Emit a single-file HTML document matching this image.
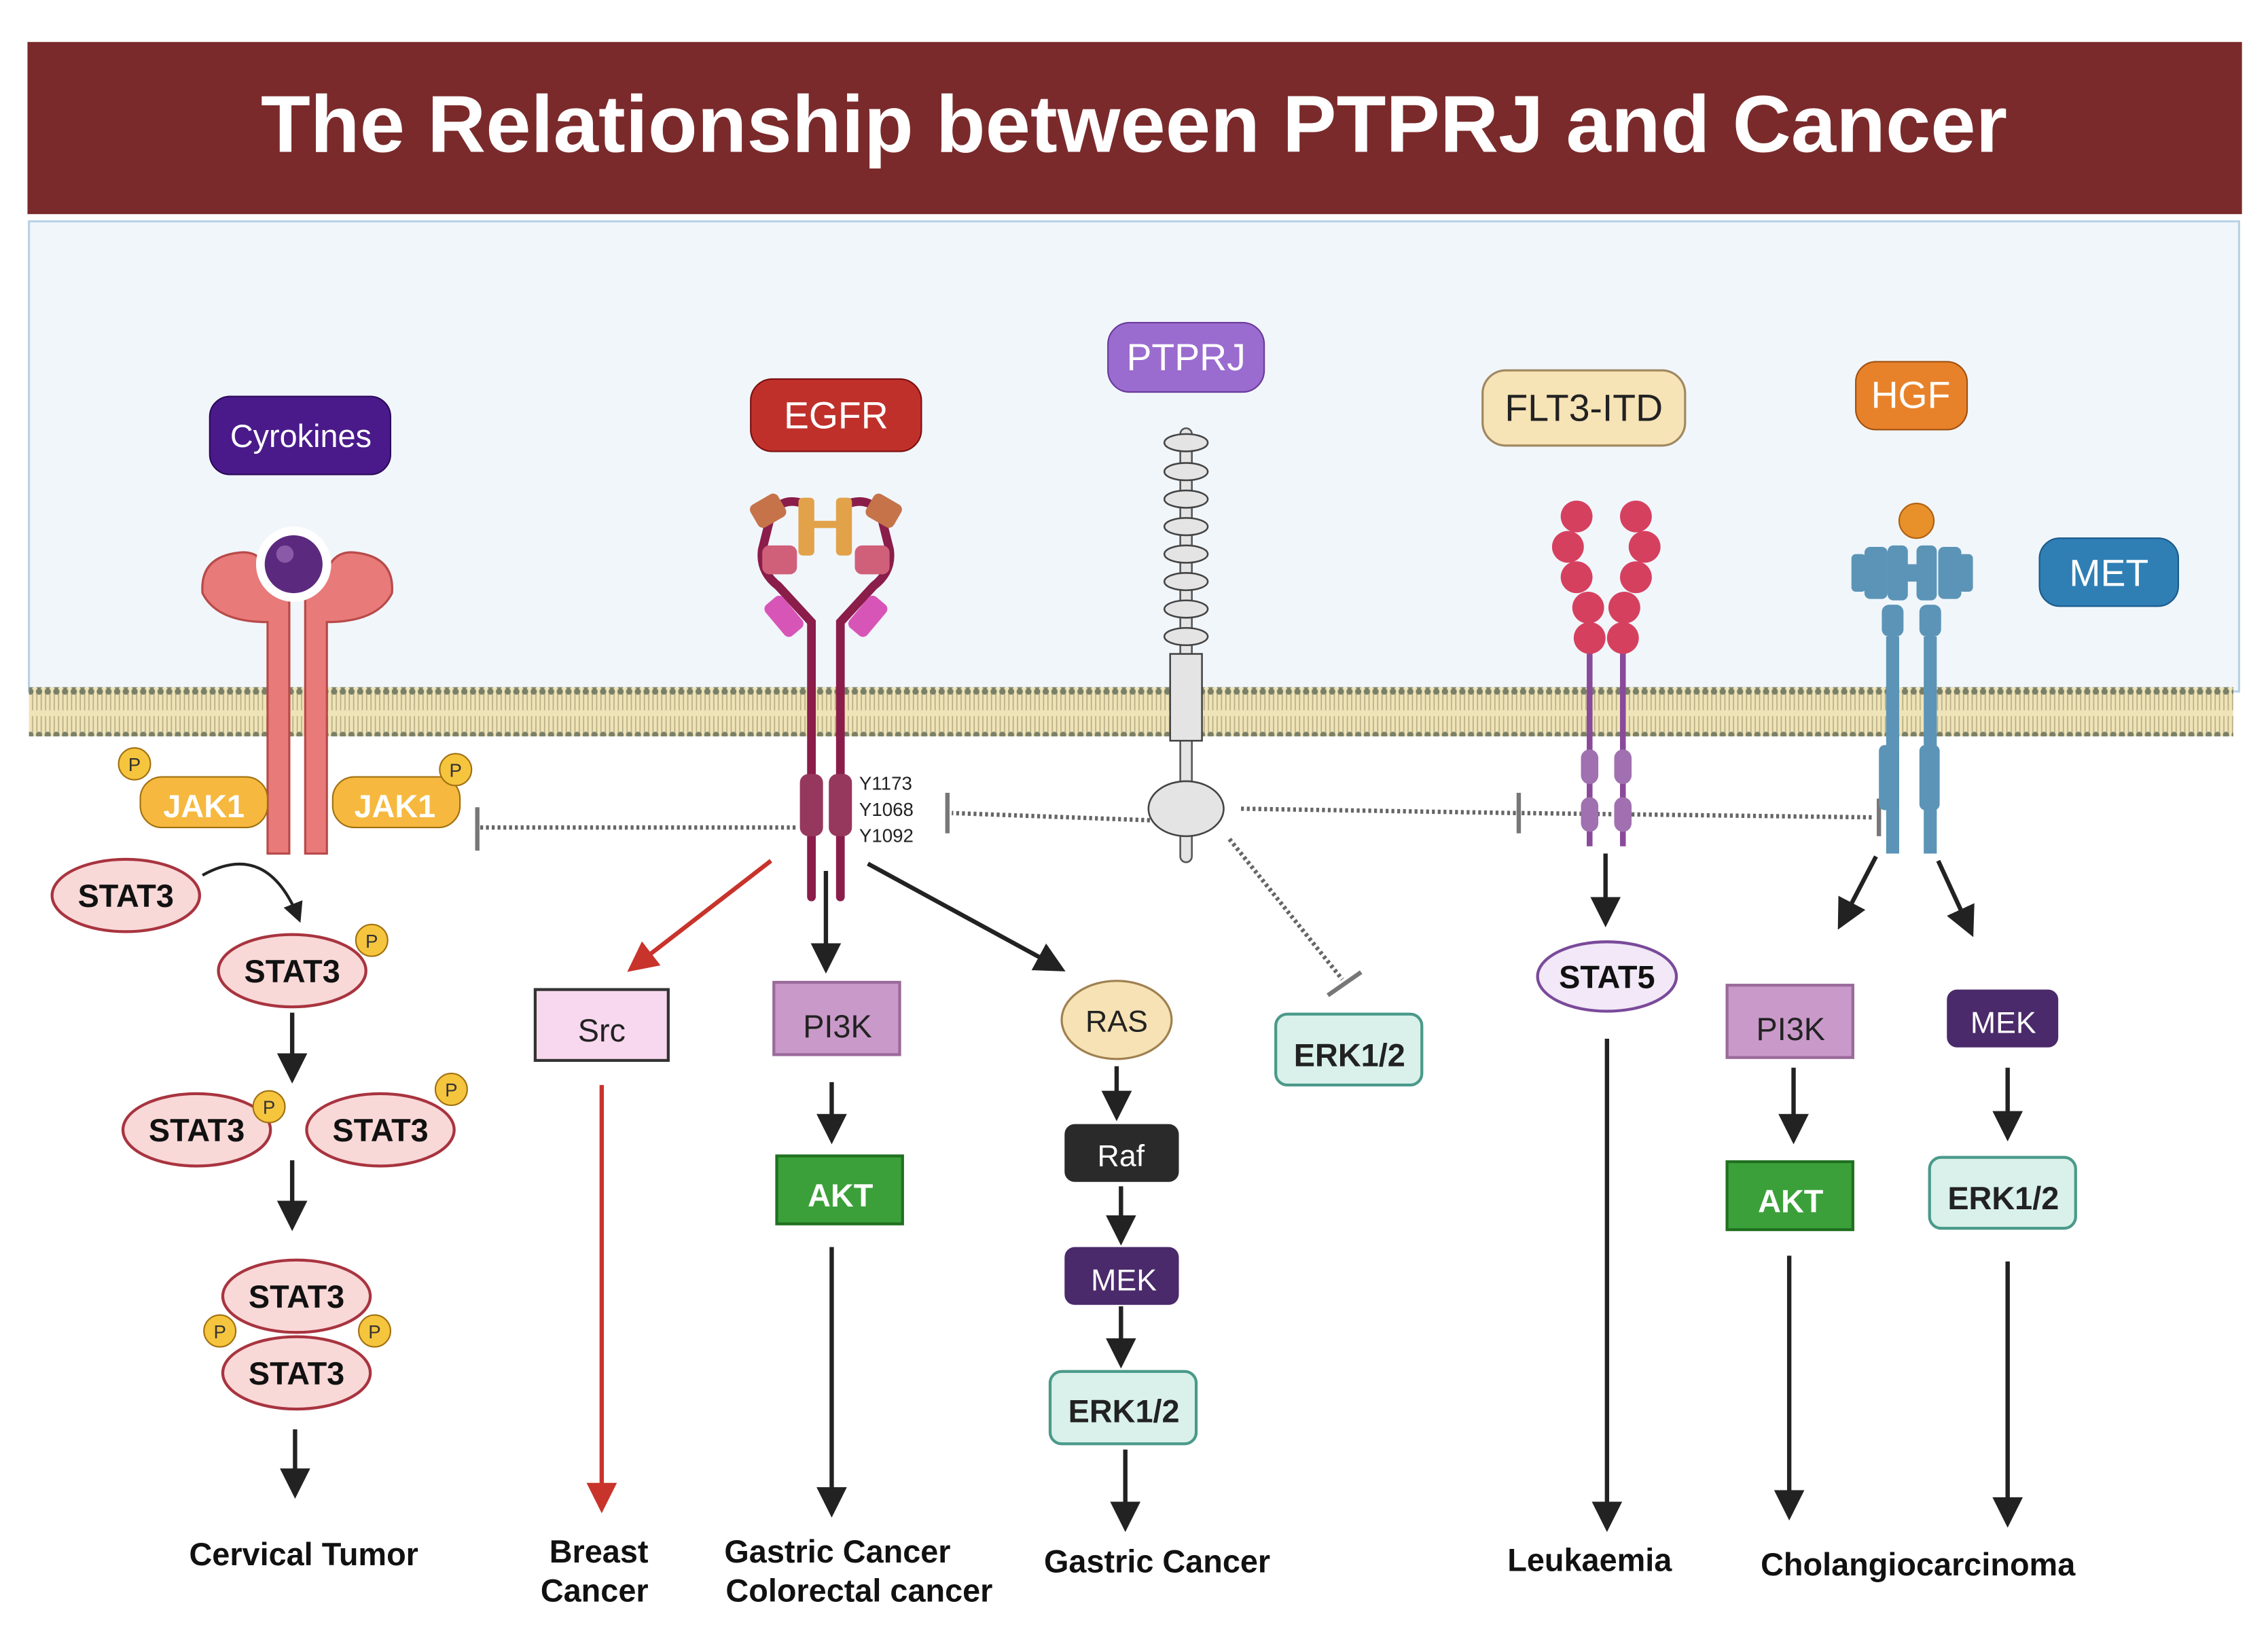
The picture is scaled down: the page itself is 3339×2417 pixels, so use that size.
<!DOCTYPE html>
<html><head><meta charset="utf-8"><style>
html,body{margin:0;padding:0;background:#fff;}
svg{display:block;}
text{font-family:"Liberation Sans",sans-serif;}
</style></head><body>
<svg width="3339" height="2417" viewBox="0 0 1568 1135" xmlns="http://www.w3.org/2000/svg">
<defs>
<pattern id="mem" width="6" height="34" patternUnits="userSpaceOnUse">
<rect width="6" height="34" fill="#efe4b8"/>
<line x1="1.5" y1="3" x2="1.5" y2="15" stroke="#b8ad84" stroke-width="0.8"/>
<line x1="4.5" y1="3" x2="4.5" y2="15" stroke="#b8ad84" stroke-width="0.8"/>
<line x1="1.5" y1="19" x2="1.5" y2="31" stroke="#b8ad84" stroke-width="0.8"/>
<line x1="4.5" y1="19" x2="4.5" y2="31" stroke="#b8ad84" stroke-width="0.8"/>
<circle cx="3" cy="2" r="2.2" fill="#7a8068"/>
<circle cx="3" cy="32" r="2.2" fill="#7a8068"/>
</pattern>
<marker id="ab" markerWidth="8" markerHeight="8" refX="6" refY="4" orient="auto" markerUnits="strokeWidth"><path d="M0,0.5 L7,4 L0,7.5 z" fill="#222"/></marker>
<marker id="ar" markerWidth="8" markerHeight="8" refX="6" refY="4" orient="auto" markerUnits="strokeWidth"><path d="M0,0.5 L7,4 L0,7.5 z" fill="#c8332b"/></marker>
</defs>
<rect width="1568" height="1135" fill="#fff"/>
<rect x="19" y="29" width="1531" height="119" fill="#7a2a2b"/>
<text x="784" y="105" font-size="56" font-weight="bold" fill="#fff" text-anchor="middle">The Relationship between PTPRJ and Cancer</text>
<rect x="20" y="153" width="1528" height="325" fill="#f1f6fb" stroke="#b9d2e6" stroke-width="1.5"/>
<rect x="20" y="475" width="1524" height="34" fill="url(#mem)"/>

<g>
<path d="M185,590 L185,430 Q150,430 140,410 Q138,385 165,382 Q180,380 185,395 Q195,415 200,410 L200,590 Z" fill="#e87a7a" stroke="#b84a4a" stroke-width="1.5"/>
<path d="M226,590 L226,430 Q261,430 271,410 Q273,385 246,382 Q231,380 226,395 Q216,415 211,410 L211,590 Z" fill="#e87a7a" stroke="#b84a4a" stroke-width="1.5"/>
<circle cx="203" cy="390" r="26" fill="#fff"/>
<circle cx="203" cy="390" r="20" fill="#5b2a7e"/>
<circle cx="197" cy="383" r="6" fill="#8a5aa8"/>
</g>
<rect x="145" y="274" width="125" height="54" rx="14" fill="#4a1a8a" stroke="#2d0a5a"/>
<text x="208" y="309" font-size="22" fill="#fff" text-anchor="middle">Cyrokines</text>
<rect x="97" y="537" width="88" height="35" rx="15" fill="#f6b83e" stroke="#a07010"/>
<rect x="230" y="537" width="88" height="35" rx="15" fill="#f6b83e" stroke="#a07010"/>
<text x="141" y="565" font-size="22" font-weight="bold" fill="#fff" text-anchor="middle">JAK1</text>
<text x="273" y="565" font-size="22" font-weight="bold" fill="#fff" text-anchor="middle">JAK1</text>
<g font-size="13" text-anchor="middle" fill="#333">
<circle cx="93" cy="528" r="11" fill="#f6c53e" stroke="#a07010"/><text x="93" y="533">P</text>
<circle cx="315" cy="532" r="11" fill="#f6c53e" stroke="#a07010"/><text x="315" y="537">P</text>
</g>
<g fill="#f9d8d8" stroke="#a8343f" stroke-width="2">
<ellipse cx="87" cy="619" rx="51" ry="25"/>
<ellipse cx="202" cy="671" rx="51" ry="25"/>
<ellipse cx="136" cy="781" rx="51" ry="25"/>
<ellipse cx="263" cy="781" rx="51" ry="25"/>
<ellipse cx="205" cy="949" rx="51" ry="25"/>
<ellipse cx="205" cy="896" rx="51" ry="25"/>
</g>
<g font-size="22" font-weight="bold" fill="#111" text-anchor="middle">
<text x="87" y="627">STAT3</text><text x="202" y="679">STAT3</text>
<text x="136" y="789">STAT3</text><text x="263" y="789">STAT3</text>
<text x="205" y="904">STAT3</text><text x="205" y="957">STAT3</text>
</g>
<g font-size="13" text-anchor="middle" fill="#333">
<circle cx="257" cy="650" r="11" fill="#f6c53e" stroke="#a07010"/><text x="257" y="655">P</text>
<circle cx="186" cy="765" r="11" fill="#f6c53e" stroke="#a07010"/><text x="186" y="770">P</text>
<circle cx="312" cy="753" r="11" fill="#f6c53e" stroke="#a07010"/><text x="312" y="758">P</text>
<circle cx="152" cy="920" r="11" fill="#f6c53e" stroke="#a07010"/><text x="152" y="925">P</text>
<circle cx="259" cy="920" r="11" fill="#f6c53e" stroke="#a07010"/><text x="259" y="925">P</text>
</g>
<g stroke="#222" stroke-width="3" fill="none" marker-end="url(#ab)">
<path d="M140,605 Q185,580 207,636" stroke-width="2"/>
<line x1="202" y1="700" x2="202" y2="746"/>
<line x1="202" y1="802" x2="202" y2="848"/>
<line x1="204" y1="988" x2="204" y2="1033"/>
</g>
<text x="210" y="1082" font-size="22" font-weight="bold" fill="#111" text-anchor="middle">Cervical Tumor</text>

<line x1="332" y1="572" x2="550" y2="572" stroke="#666" stroke-width="3" stroke-dasharray="2,2"/>
<line x1="330" y1="558" x2="330" y2="588" stroke="#777" stroke-width="3"/>

<rect x="519" y="262" width="118" height="50" rx="15" fill="#c0302a" stroke="#7a1010"/>
<text x="578" y="296" font-size="26" fill="#fff" text-anchor="middle">EGFR</text>
<g stroke="#8b1d4a" stroke-width="6" fill="none" stroke-linecap="round">
<path d="M561,620 L561,430 L538,405 Q525,395 527,380 L532,360"/>
<path d="M581,620 L581,430 L604,405 Q617,395 615,380 L610,360"/>
<path d="M532,357 Q540,343 555,348"/><path d="M610,357 Q602,343 587,348"/>
</g>
<rect x="553" y="535" width="16" height="43" rx="6" fill="#96385e"/>
<rect x="573" y="535" width="16" height="43" rx="6" fill="#96385e"/>
<rect x="552" y="344" width="11" height="40" rx="3" fill="#e2a24a"/>
<rect x="578" y="344" width="11" height="40" rx="3" fill="#e2a24a"/>
<rect x="561" y="360" width="20" height="5" fill="#e2a24a"/>
<rect x="520" y="344" width="22" height="18" rx="4" fill="#c6734a" transform="rotate(-30 531 353)"/>
<rect x="600" y="344" width="22" height="18" rx="4" fill="#c6734a" transform="rotate(30 611 353)"/>
<rect x="527" y="377" width="24" height="20" rx="5" fill="#d0607a"/>
<rect x="591" y="377" width="24" height="20" rx="5" fill="#d0607a"/>
<rect x="528" y="418" width="28" height="16" rx="4" fill="#d855b8" transform="rotate(50 542 426)"/>
<rect x="586" y="418" width="28" height="16" rx="4" fill="#d855b8" transform="rotate(-50 600 426)"/>
<g font-size="13" fill="#222"><text x="594" y="546">Y1173</text><text x="594" y="564">Y1068</text><text x="594" y="582">Y1092</text></g>
<line x1="533" y1="595" x2="436" y2="670" stroke="#c8332b" stroke-width="3" marker-end="url(#ar)"/>
<line x1="571" y1="602" x2="571" y2="670" stroke="#222" stroke-width="3" marker-end="url(#ab)"/>
<line x1="600" y1="597" x2="734" y2="670" stroke="#222" stroke-width="3" marker-end="url(#ab)"/>
<rect x="370" y="684" width="92" height="49" fill="#f8d8ee" stroke="#333" stroke-width="2"/>
<text x="416" y="720" font-size="22" fill="#222" text-anchor="middle">Src</text>
<line x1="416" y1="750" x2="416" y2="1043" stroke="#c8332b" stroke-width="3" marker-end="url(#ar)"/>
<rect x="535" y="679" width="87" height="50" fill="#c99ac9" stroke="#9a6a9a" stroke-width="2"/>
<text x="579" y="717" font-size="22" fill="#222" text-anchor="middle">PI3K</text>
<line x1="575" y1="748" x2="575" y2="788" stroke="#222" stroke-width="3" marker-end="url(#ab)"/>
<rect x="537" y="799" width="87" height="47" fill="#3ba03a" stroke="#207020" stroke-width="2"/>
<text x="581" y="834" font-size="22" font-weight="bold" fill="#fff" text-anchor="middle">AKT</text>
<line x1="575" y1="862" x2="575" y2="1046" stroke="#222" stroke-width="3" marker-end="url(#ab)"/>
<g font-size="22" font-weight="bold" fill="#111" text-anchor="middle">
<text x="414" y="1080">Breast</text><text x="411" y="1107">Cancer</text>
<text x="579" y="1080">Gastric Cancer</text><text x="594" y="1107">Colorectal cancer</text>
<text x="800" y="1087">Gastric Cancer</text>
</g>
<ellipse cx="772" cy="705" rx="38" ry="27" fill="#f6e2b4" stroke="#a08050" stroke-width="1.5"/>
<text x="772" y="713" font-size="21" fill="#222" text-anchor="middle">RAS</text>
<line x1="772" y1="737" x2="772" y2="772" stroke="#222" stroke-width="3" marker-end="url(#ab)"/>
<rect x="736" y="777" width="79" height="40" rx="7" fill="#2a2a2a"/>
<text x="775" y="806" font-size="21" fill="#fff" text-anchor="middle">Raf</text>
<line x1="775" y1="820" x2="775" y2="858" stroke="#222" stroke-width="3" marker-end="url(#ab)"/>
<rect x="736" y="862" width="79" height="40" rx="7" fill="#4a2a6a"/>
<text x="777" y="892" font-size="21" fill="#fff" text-anchor="middle">MEK</text>
<line x1="775" y1="903" x2="775" y2="943" stroke="#222" stroke-width="3" marker-end="url(#ab)"/>
<rect x="726" y="948" width="101" height="50" rx="8" fill="#d9f1ea" stroke="#4a9a8a" stroke-width="2"/>
<text x="777" y="983" font-size="22" font-weight="bold" fill="#222" text-anchor="middle">ERK1/2</text>
<line x1="778" y1="1002" x2="778" y2="1056" stroke="#222" stroke-width="3" marker-end="url(#ab)"/>

<rect x="766" y="223" width="108" height="48" rx="15" fill="#9b6ccf" stroke="#6a3a9a"/>
<text x="820" y="256" font-size="26" fill="#fff" text-anchor="middle">PTPRJ</text>
<rect x="816" y="296" width="8" height="300" rx="4" fill="#e4e4e4" stroke="#555" stroke-width="1.2"/>
<g fill="#e4e4e4" stroke="#444" stroke-width="1.2">
<ellipse cx="820" cy="306" rx="15" ry="6"/><ellipse cx="820" cy="326" rx="15" ry="6"/><ellipse cx="820" cy="345" rx="15" ry="6"/>
<ellipse cx="820" cy="364" rx="15" ry="6"/><ellipse cx="820" cy="383" rx="15" ry="6"/><ellipse cx="820" cy="402" rx="15" ry="6"/>
<ellipse cx="820" cy="421" rx="15" ry="6"/><ellipse cx="820" cy="440" rx="15" ry="6"/>
<rect x="809" y="452" width="22" height="60"/>
<ellipse cx="820" cy="559" rx="26" ry="19"/>
</g>
<g stroke="#666" stroke-width="3" stroke-dasharray="2,2" fill="none">
<line x1="795" y1="567" x2="658" y2="562"/>
<line x1="858" y1="559" x2="1048" y2="562"/>
<line x1="1052" y1="562" x2="1296" y2="565"/>
<line x1="850" y1="580" x2="928" y2="677"/>
</g>
<g stroke="#777" stroke-width="3">
<line x1="655" y1="548" x2="655" y2="576"/>
<line x1="1050" y1="548" x2="1050" y2="576"/>
<line x1="1299" y1="552" x2="1299" y2="578"/>
<line x1="918" y1="688" x2="941" y2="672"/>
</g>
<rect x="882" y="701" width="101" height="49" rx="8" fill="#d9f1ea" stroke="#4a9a8a" stroke-width="2"/>
<text x="933" y="737" font-size="22" font-weight="bold" fill="#222" text-anchor="middle">ERK1/2</text>

<rect x="1025" y="256" width="140" height="52" rx="16" fill="#f6e3b6" stroke="#a08860" stroke-width="1.5"/>
<text x="1095" y="291" font-size="26" fill="#222" text-anchor="middle">FLT3-ITD</text>
<g stroke="#8a4a9a" stroke-width="4"><line x1="1099" y1="440" x2="1099" y2="585"/><line x1="1122" y1="440" x2="1122" y2="585"/></g>
<g fill="#a070b0"><rect x="1093" y="518" width="12" height="24" rx="6"/><rect x="1116" y="518" width="12" height="24" rx="6"/>
<rect x="1093" y="551" width="12" height="24" rx="6"/><rect x="1116" y="551" width="12" height="24" rx="6"/></g>
<g fill="#d6405f">
<circle cx="1090" cy="357" r="11"/><circle cx="1084" cy="378" r="11"/><circle cx="1090" cy="399" r="11"/><circle cx="1098" cy="420" r="11"/><circle cx="1099" cy="441" r="11"/>
<circle cx="1131" cy="357" r="11"/><circle cx="1137" cy="378" r="11"/><circle cx="1131" cy="399" r="11"/><circle cx="1123" cy="420" r="11"/><circle cx="1122" cy="441" r="11"/>
</g>
<line x1="1110" y1="590" x2="1110" y2="638" stroke="#222" stroke-width="3" marker-end="url(#ab)"/>
<ellipse cx="1111" cy="675" rx="48" ry="24" fill="#f2e8f8" stroke="#7a4a9a" stroke-width="2"/>
<text x="1111" y="683" font-size="22" font-weight="bold" fill="#111" text-anchor="middle">STAT5</text>
<line x1="1111" y1="718" x2="1111" y2="1056" stroke="#222" stroke-width="3" marker-end="url(#ab)"/>
<text x="1099" y="1086" font-size="22" font-weight="bold" fill="#111" text-anchor="middle">Leukaemia</text>

<rect x="1283" y="250" width="77" height="47" rx="14" fill="#e8822a" stroke="#a05010"/>
<text x="1321" y="282" font-size="26" fill="#fff" text-anchor="middle">HGF</text>
<rect x="1410" y="372" width="96" height="47" rx="14" fill="#2f7fb5" stroke="#1a5a8a"/>
<text x="1458" y="405" font-size="26" fill="#fff" text-anchor="middle">MET</text>
<g fill="#5b94b6">
<rect x="1280" y="383" width="10" height="26" rx="3"/><rect x="1289" y="378" width="16" height="36" rx="4"/>
<rect x="1340" y="378" width="16" height="36" rx="4"/><rect x="1354" y="383" width="10" height="26" rx="3"/>
<rect x="1305" y="377" width="14" height="38" rx="4"/><rect x="1325" y="377" width="14" height="38" rx="4"/>
<rect x="1318" y="390" width="8" height="12"/>
<rect x="1301" y="418" width="15" height="22" rx="5"/><rect x="1327" y="418" width="15" height="22" rx="5"/>
<rect x="1304" y="440" width="9" height="150"/><rect x="1330" y="440" width="9" height="150"/>
<rect x="1299" y="515" width="14" height="45" rx="4"/><rect x="1327" y="515" width="14" height="45" rx="4"/>
</g>
<circle cx="1325" cy="360" r="12" fill="#e8902a" stroke="#b06010"/>
<line x1="1297" y1="592" x2="1272" y2="640" stroke="#222" stroke-width="3" marker-end="url(#ab)"/>
<line x1="1340" y1="595" x2="1363" y2="645" stroke="#222" stroke-width="3" marker-end="url(#ab)"/>
<rect x="1194" y="681" width="87" height="50" fill="#c99ac9" stroke="#9a6a9a" stroke-width="2"/>
<text x="1238" y="719" font-size="22" fill="#222" text-anchor="middle">PI3K</text>
<rect x="1346" y="684" width="77" height="40" rx="7" fill="#4a2a6a"/>
<text x="1385" y="714" font-size="21" fill="#fff" text-anchor="middle">MEK</text>
<line x1="1240" y1="738" x2="1240" y2="788" stroke="#222" stroke-width="3" marker-end="url(#ab)"/>
<line x1="1388" y1="738" x2="1388" y2="786" stroke="#222" stroke-width="3" marker-end="url(#ab)"/>
<rect x="1194" y="803" width="87" height="47" fill="#3ba03a" stroke="#207020" stroke-width="2"/>
<text x="1238" y="838" font-size="22" font-weight="bold" fill="#fff" text-anchor="middle">AKT</text>
<rect x="1334" y="800" width="101" height="49" rx="8" fill="#d9f1ea" stroke="#4a9a8a" stroke-width="2"/>
<text x="1385" y="836" font-size="22" font-weight="bold" fill="#222" text-anchor="middle">ERK1/2</text>
<line x1="1237" y1="868" x2="1237" y2="1048" stroke="#222" stroke-width="3" marker-end="url(#ab)"/>
<line x1="1388" y1="872" x2="1388" y2="1053" stroke="#222" stroke-width="3" marker-end="url(#ab)"/>
<text x="1326" y="1089" font-size="22" font-weight="bold" fill="#111" text-anchor="middle">Cholangiocarcinoma</text>
</svg>
</body></html>
